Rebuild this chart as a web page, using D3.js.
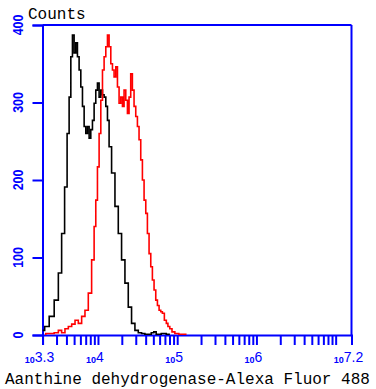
<!DOCTYPE html>
<html>
<head>
<meta charset="utf-8">
<script src="https://cdn.jsdelivr.net/npm/d3@7"></script>
<style>
html,body{margin:0;padding:0;background:#fff;}
svg{display:block;}
</style>
</head>
<body>
<svg id="chart" width="376" height="389"></svg>
<script>
// log10 fluorescence intensity (x) and counts (y)
const blackX = [3.302,3.353,3.416,3.479,3.521,3.562,3.596,3.625,3.647,3.668,3.688,3.710,3.731,3.751,3.773,3.794,3.815,3.836,3.857,3.878,3.899,3.920,3.941,3.962,3.983,4.004,4.025,4.047,4.067,4.088,4.110,4.130,4.151,4.193,4.236,4.277,4.319,4.362,4.403,4.445,4.488,4.530,4.571,4.613,4.656,4.690,4.719,4.750,4.782,4.815,4.845,4.878,4.908];
const blackY = [6,11,24,45,80,131,191,260,307,359,387,364,377,359,342,320,295,269,260,269,254,265,277,299,316,325,307,316,310,307,295,277,243,209,166,131,97,67,36,15,6,3,2,1,1,3,4,1,1,2,2,1,1];
const redX = [3.330,3.353,3.416,3.479,3.521,3.562,3.605,3.647,3.690,3.731,3.773,3.815,3.857,3.899,3.941,3.962,3.983,4.004,4.025,4.047,4.067,4.088,4.110,4.130,4.151,4.173,4.193,4.214,4.236,4.256,4.277,4.299,4.319,4.340,4.362,4.382,4.403,4.424,4.445,4.466,4.488,4.508,4.529,4.551,4.571,4.593,4.614,4.634,4.656,4.677,4.697,4.719,4.740,4.761,4.782,4.803,4.823,4.853,4.873,4.893,4.920,4.949,4.992,5.050,5.118];
const redY = [1,2,2,3,6,3,8,11,14,19,15,24,32,54,97,140,174,217,260,303,342,359,372,387,372,350,342,333,346,320,299,307,295,316,303,286,307,337,316,295,282,269,252,226,200,174,157,131,105,88,71,58,45,38,32,30,28,19,15,11,8,4,2,1,1];
const xDomainExp = [3.3, 7.2];
const yTicks = [0, 100, 200, 300, 400];
const xMajorExp = [3.3, 4, 5, 6, 7.2];
const xMajorLabels = ["3.3", "4", "5", "6", "7.2"];
const yLabel = "Counts";
const xLabel = "Aanthine dehydrogenase-Alexa Fluor 488";

const svg = d3.select("#chart");
const mLeft = 42.5, mRight = 351.5, mTop = 25, mBottom = 335;
const blue = "#0000ff";

const x = d3.scaleLog().domain(xDomainExp.map(e => Math.pow(10, e))).range([mLeft, mRight]);
const y = d3.scaleLinear().domain([0, 400]).range([mBottom, mTop]);

// frame: top and right lines
svg.append("line").attr("x1", mLeft).attr("x2", mRight).attr("y1", mTop).attr("y2", mTop)
  .attr("stroke", blue).attr("stroke-width", 2);
svg.append("line").attr("x1", mRight).attr("x2", mRight).attr("y1", mTop).attr("y2", mBottom)
  .attr("stroke", blue).attr("stroke-width", 2);

// y axis
const yAxis = d3.axisLeft(y).tickValues(yTicks).tickSize(10).tickFormat("");
const yg = svg.append("g").attr("transform", `translate(${mLeft},0)`).call(yAxis);
yg.select(".domain").attr("stroke", blue).attr("stroke-width", 2);
yg.selectAll(".tick line").attr("stroke", blue).attr("stroke-width", 2);
yTicks.forEach(t => {
  const s = String(t);
  svg.append("text")
    .attr("transform", `translate(23,${y(t)}) rotate(-90)`)
    .attr("text-anchor", "middle")
    .attr("font-family", "Liberation Sans")
    .attr("font-weight", "bold")
    .attr("font-size", 15)
    .attr("textLength", s.length * 6.9)
    .attr("lengthAdjust", "spacingAndGlyphs")
    .attr("fill", blue)
    .text(s);
});

// x axis ticks: minor at 2..9 x 10^k, majors
const minor = [];
for (let k = 3; k <= 7; k++) for (let m = 1; m <= 9; m++) {
  const v = m * Math.pow(10, k);
  const e = Math.log10(v);
  if (e >= xDomainExp[0] - 1e-3 && e <= xDomainExp[1] + 1e-3) minor.push(v);
}
const tickVals = Array.from(new Set(minor.concat(xMajorExp.map(e => Math.pow(10, e)))));
const xAxis = d3.axisBottom(x).tickValues(tickVals).tickSize(10).tickFormat("");
const xg = svg.append("g").attr("transform", `translate(0,${mBottom})`).call(xAxis);
xg.select(".domain").attr("stroke", blue).attr("stroke-width", 2);
xg.selectAll(".tick line").attr("stroke", blue).attr("stroke-width", 2);

xMajorExp.forEach((e, i) => {
  const t = svg.append("text")
    .attr("x", x(Math.pow(10, e)) - 3)
    .attr("y", 362)
    .attr("text-anchor", "middle")
    .attr("font-family", "Liberation Sans")
    .attr("fill", blue);
  t.append("tspan").attr("font-size", 9).attr("font-weight", "bold").attr("dy", 1).text("10");
  t.append("tspan").attr("font-size", 14).attr("dy", -1).text(xMajorLabels[i]);
});

// histograms
const line = d3.line()
  .x(d => x(Math.pow(10, d[0])))
  .y(d => y(d[1]))
  .curve(d3.curveStep);
svg.append("path").datum(blackX.map((v, i) => [v, blackY[i]]))
  .attr("d", line).attr("fill", "none").attr("stroke", "#000").attr("stroke-width", 1.6);
svg.append("path").datum(redX.map((v, i) => [v, redY[i]]))
  .attr("d", line).attr("fill", "none").attr("stroke", "#ff0000").attr("stroke-width", 1.6);

// titles
svg.append("text").attr("x", 28).attr("y", 19)
  .attr("font-family", "Liberation Mono").attr("font-size", 16).attr("fill", "#000")
  .text(yLabel);
svg.append("text").attr("x", 5).attr("y", 384)
  .attr("font-family", "Liberation Mono").attr("font-size", 16).attr("fill", "#000")
  .text(xLabel);
</script>
</body>
</html>
